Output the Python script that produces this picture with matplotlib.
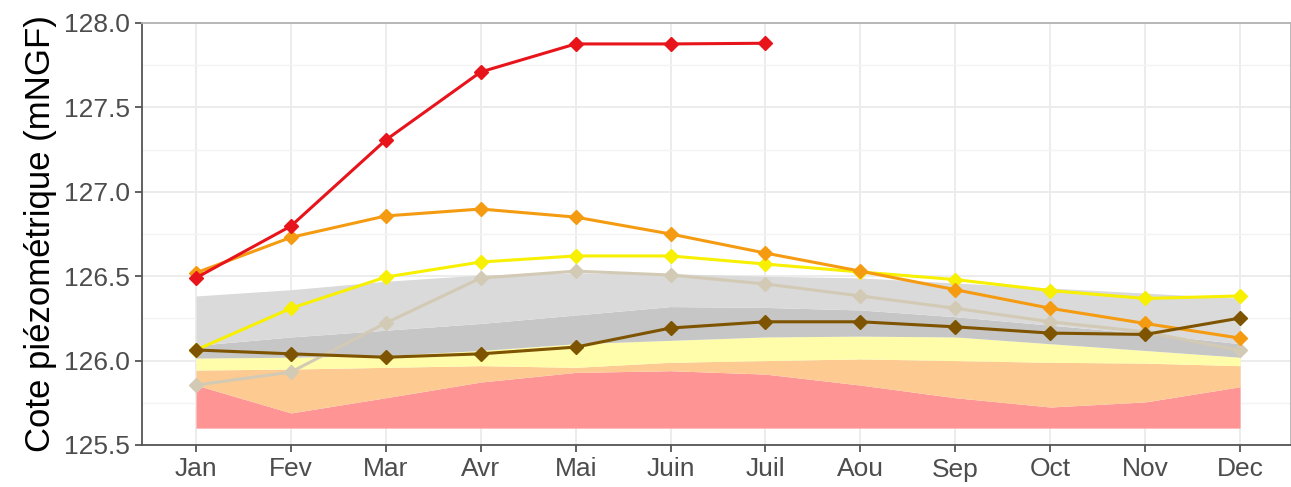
import numpy as np
import matplotlib
matplotlib.use('Agg')
import matplotlib.pyplot as plt
from matplotlib.ticker import MultipleLocator, FormatStrFormatter

# === Données ===
mois = ["Jan", "Fev", "Mar", "Avr", "Mai", "Juin", "Juil", "Aou", "Sep", "Oct", "Nov", "Dec"]

# enveloppes empilées (bas commun = 125.6)
base = 125.6
bande_rouge = [125.855, 125.69, 125.78, 125.873, 125.93, 125.94, 125.92, 125.855, 125.78, 125.725, 125.755, 125.845]
bande_orange = [125.944, 125.95, 125.96, 125.97, 125.96, 125.99, 126.0, 126.01, 126.0, 125.99, 125.985, 125.97]
bande_jaune = [126.015, 126.02, 126.03, 126.06, 126.1, 126.12, 126.14, 126.145, 126.14, 126.1, 126.06, 126.02]
bande_gris_fonce = [126.09, 126.14, 126.18, 126.22, 126.27, 126.32, 126.315, 126.3, 126.26, 126.21, 126.16, 126.1]
bande_gris_clair = [126.383, 126.42, 126.47, 126.507, 126.52, 126.515, 126.5, 126.49, 126.46, 126.43, 126.4, 126.37]

# séries annuelles
serie_tan = [125.855, 125.932, 126.223, 126.489, 126.53, 126.507, 126.454, 126.383, 126.31, 126.23, 126.17, 126.06]
serie_jaune = [126.063, 126.31, 126.495, 126.584, 126.62, 126.62, 126.572, 126.525, 126.48, 126.415, 126.368, 126.383]
serie_orange = [126.52, 126.73, 126.857, 126.898, 126.85, 126.75, 126.637, 126.53, 126.42, 126.31, 126.22, 126.133]
serie_brun = [126.063, 126.04, 126.02, 126.04, 126.08, 126.193, 126.23, 126.23, 126.2, 126.163, 126.155, 126.252]
serie_rouge = [126.49, 126.797, 127.307, 127.71, 127.876, 127.876, 127.88]

x = np.arange(1, len(mois) + 1)

plt.rcParams['font.family'] = ['Liberation Sans', 'DejaVu Sans']

fig = plt.figure(figsize=(12.91, 4.87), dpi=100)
ax = fig.add_axes([142 / 1291, 1 - 445 / 487, (1291 - 142) / 1291, (445 - 23) / 487])

# === Bandes ===
ax.fill_between(x, base, bande_rouge, color='#FF9494', lw=0, zorder=1)
ax.fill_between(x, bande_rouge, bande_orange, color='#FDCA92', lw=0, zorder=1)
ax.fill_between(x, bande_orange, bande_jaune, color='#FFFDAA', lw=0, zorder=1)
ax.fill_between(x, bande_jaune, bande_gris_fonce, color='#C6C6C6', lw=0, zorder=1)
ax.fill_between(x, bande_gris_fonce, bande_gris_clair, color='#DADADA', lw=0, zorder=1)

# === Séries ===
kw = dict(marker='D', markersize=7.5, lw=2.2, zorder=3)
ax.plot(x, serie_tan, color='#D3CAB5', **kw)
ax.plot(x, serie_jaune, color='#F7F000', **kw)
ax.plot(x, serie_orange, color='#F59B12', **kw)
ax.plot(x, serie_brun, color='#7E5400', **kw)
ax.plot(x[:len(serie_rouge)], serie_rouge, color='#E8141B', **kw)

# === Axes ===
ax.set_xlim(0.431, 12.537)
ax.set_ylim(125.5, 128.0)
ax.set_xticks(x)
ax.set_xticklabels(mois)
ax.yaxis.set_major_locator(MultipleLocator(0.5))
ax.yaxis.set_minor_locator(MultipleLocator(0.25))
ax.yaxis.set_major_formatter(FormatStrFormatter('%.1f'))
ax.tick_params(axis='both', which='major', direction='out', length=5, width=1.3,
               color='#555555', labelcolor='#4D4D4D', labelsize=19, pad=4)
ax.tick_params(axis='y', which='minor', length=0)
ax.grid(which='major', color='#EBEBEB', lw=1.3, zorder=0)
ax.grid(which='minor', axis='y', color='#F3F3F3', lw=1.0, zorder=0)
ax.set_axisbelow(True)
for side in ['top', 'right']:
    ax.spines[side].set_color('#B3B3B3')
    ax.spines[side].set_linewidth(1.3)
for side in ['left', 'bottom']:
    ax.spines[side].set_color('#555555')
    ax.spines[side].set_linewidth(1.3)
ax.set_ylabel('Cote piézométrique (mNGF)', fontsize=25, color='black', labelpad=5)

plt.savefig('out.png', dpi=100)
plt.close()
